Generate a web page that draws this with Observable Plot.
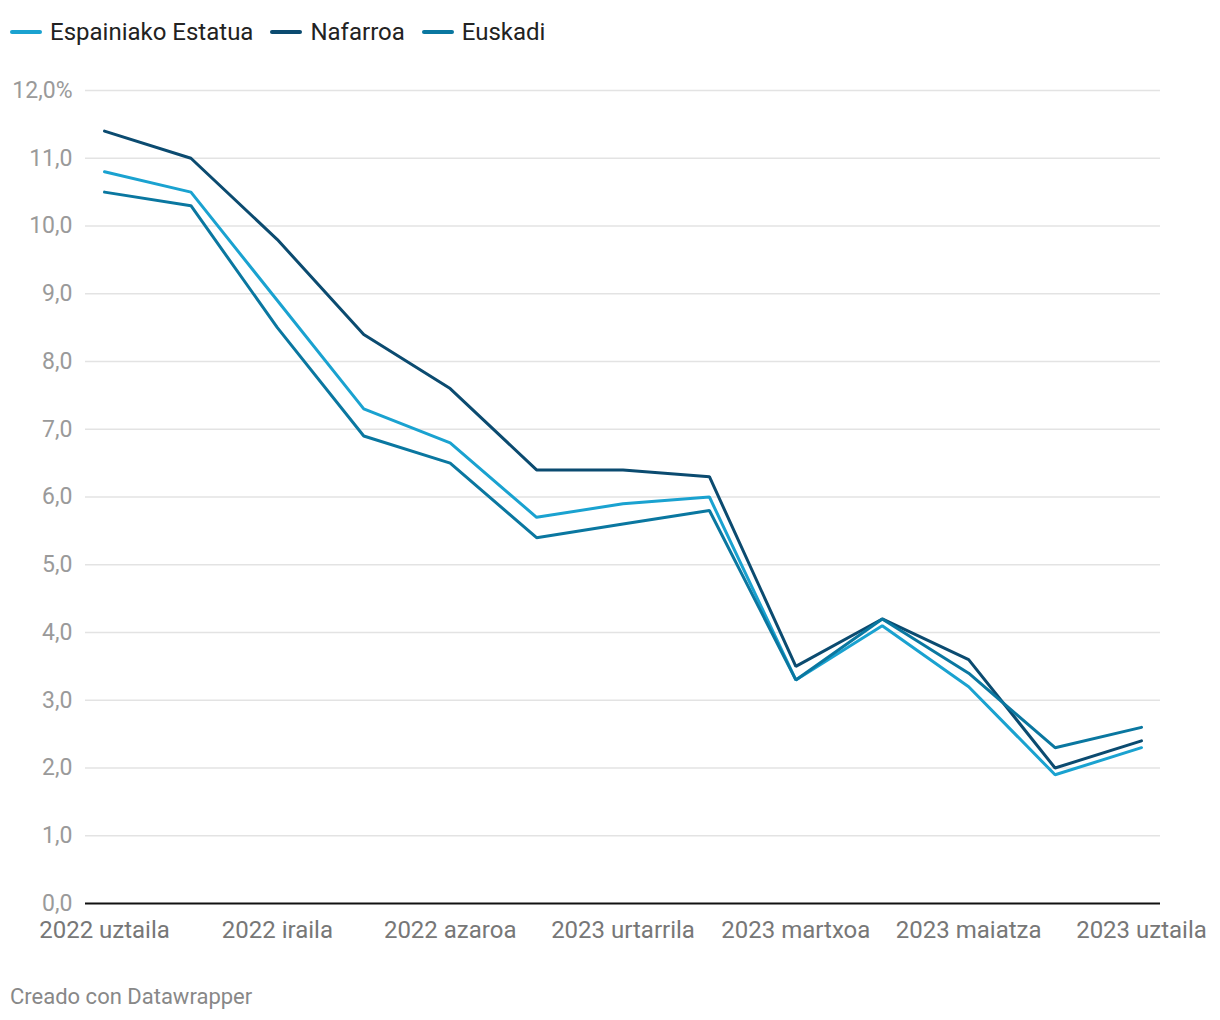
<!DOCTYPE html>
<html>
<head>
<meta charset="utf-8">
<script src="https://cdn.jsdelivr.net/npm/d3@7"></script>
<script src="https://cdn.jsdelivr.net/npm/@observablehq/plot@0.6"></script>
<style>
  body { margin: 0; background: #fff; font-family: Roboto, "Noto Sans", sans-serif; width: 1220px; }
  #legend { height: 60px; display: flex; align-items: center; padding-left: 10px; font-size: 24px; color: #222; box-sizing: border-box; padding-top: 3px; }
  .item { display: flex; align-items: center; margin-right: 17px; }
  .sw { width: 32px; height: 4px; border-radius: 2px; margin-right: 8px; }
  #caption { font-size: 22px; color: #888; padding-left: 10px; margin-top: 24px; }
</style>
</head>
<body>
<div id="legend"></div>
<div id="chart"></div>
<div id="caption">Creado con Datawrapper</div>
<script>
const months = ["2022-07","2022-08","2022-09","2022-10","2022-11","2022-12","2023-01","2023-02","2023-03","2023-04","2023-05","2023-06","2023-07"];
const seriesNames = ["Espainiako Estatua", "Nafarroa", "Euskadi"];
const colors = ["#1aa2d0", "#0b4b70", "#0a77a0"];
const espainia = [10.8, 10.5, 8.9, 7.3, 6.8, 5.7, 5.9, 6.0, 3.3, 4.1, 3.2, 1.9, 2.3];
const nafarroa = [11.4, 11.0, 9.8, 8.4, 7.6, 6.4, 6.4, 6.3, 3.5, 4.2, 3.6, 2.0, 2.4];
const euskadi  = [10.5, 10.3, 8.5, 6.9, 6.5, 5.4, 5.6, 5.8, 3.3, 4.2, 3.4, 2.3, 2.6];
const xTickIdx = [0, 2, 4, 6, 8, 10, 12];
const xTickLabels = ["2022 uztaila","2022 iraila","2022 azaroa","2023 urtarrila","2023 martxoa","2023 maiatza","2023 uztaila"];
const yTicks = [0,1,2,3,4,5,6,7,8,9,10,11,12];

const allSeries = [espainia, nafarroa, euskadi];
const data = [];
allSeries.forEach((vals, s) => vals.forEach((v, i) => data.push({i, v, s: seriesNames[s]})));

// legend
const leg = document.getElementById("legend");
seriesNames.forEach((n, k) => {
  const d = document.createElement("div"); d.className = "item";
  d.innerHTML = `<span class="sw" style="background:${colors[k]}"></span><span>${n}</span>`;
  leg.appendChild(d);
});

const fmtY = d => d === 12 ? "12,0%" : d.toFixed(1).replace(".", ",");

const chart = Plot.plot({
  width: 1220,
  height: 900,
  marginTop: 30,
  marginBottom: 57,
  marginLeft: 85,
  marginRight: 60,
  style: {fontFamily: "Roboto, sans-serif", fontSize: "23px", background: "#fff"},
  x: {domain: [-0.22, 12.22], axis: null},
  y: {domain: [0, 12], axis: null},
  color: {domain: seriesNames, range: colors},
  marks: [
    Plot.ruleY(yTicks.filter(d => d > 0), {stroke: "#e3e3e3", strokeWidth: 1.5}),
    Plot.axisY(yTicks, {tickSize: 0, tickPadding: 13, tickFormat: fmtY, fill: "#9a9a9a", fontSize: 23, label: null}),
    Plot.axisX(xTickIdx, {tickSize: 0, tickPadding: 17, tickFormat: (d, k) => xTickLabels[k], fill: "#777", fontSize: 24, label: null}),
    Plot.line(data, {x: "i", y: "v", z: "s", stroke: "s", strokeWidth: 3, strokeLinejoin: "miter"}),
    Plot.ruleY([0], {stroke: "#111", strokeWidth: 2})
  ]
});
document.getElementById("chart").appendChild(chart);
</script>
</body>
</html>
